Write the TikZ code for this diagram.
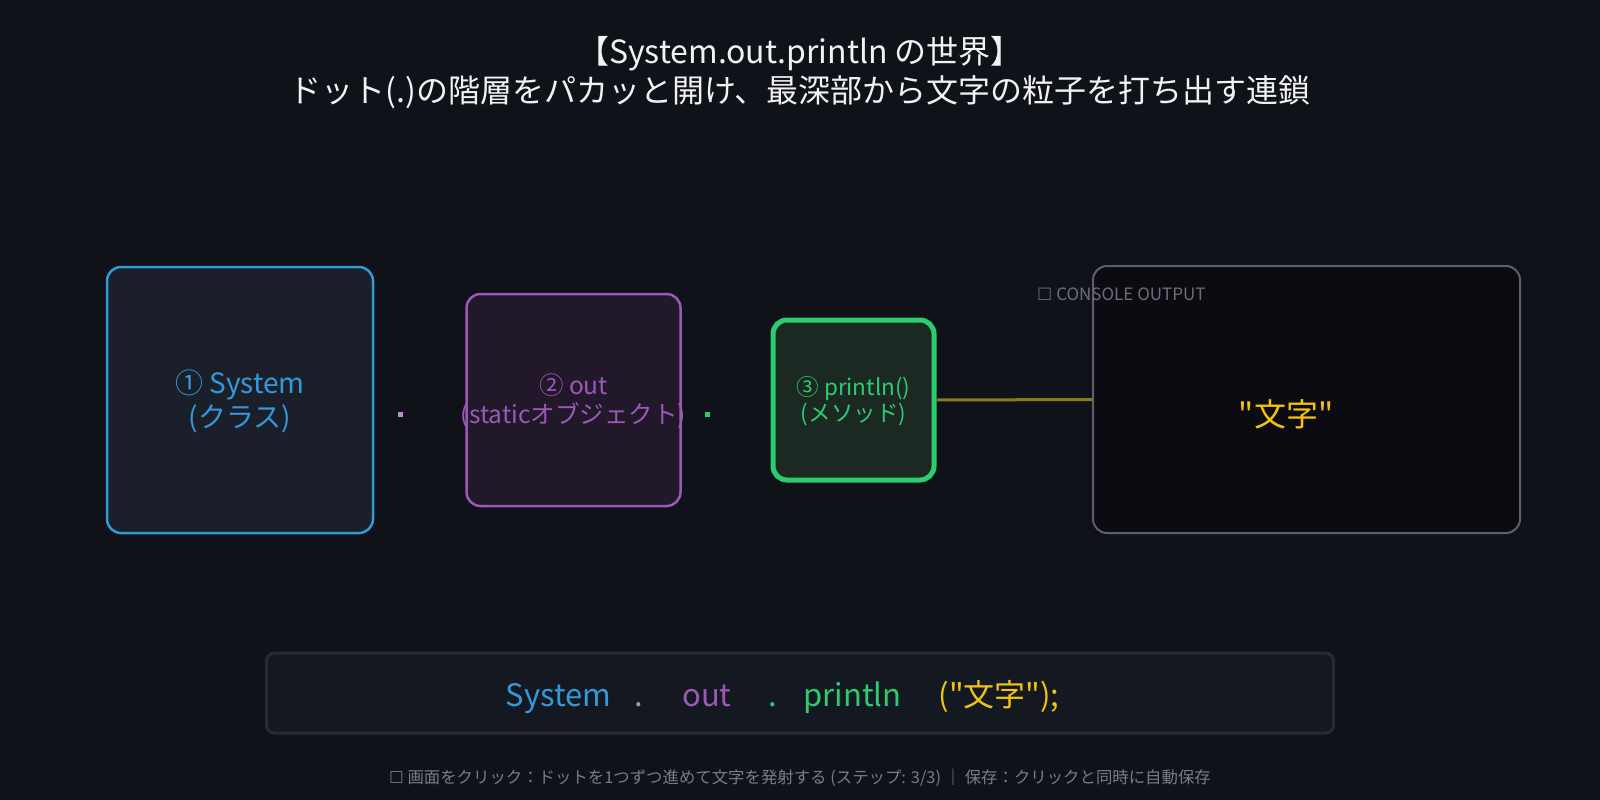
\documentclass[tikz,border=0pt]{standalone}
\usepackage{fontspec}
\setmainfont{Noto Sans CJK JP}[Ligatures=TeXOff]
\newfontfamily\dv{DejaVu Sans}[Ligatures=TeXOff]
\definecolor{bg}{HTML}{0F1218}
\definecolor{cblue}{HTML}{3498DB}
\definecolor{cpurple}{HTML}{9B59B6}
\definecolor{cgreen}{HTML}{2ECC71}
\definecolor{cyellow}{HTML}{F1C40F}
\definecolor{cline}{HTML}{8C7A1A}
\definecolor{cgray}{HTML}{6E6E78}
\definecolor{cfoot}{HTML}{7A7C84}
\definecolor{cwhite}{HTML}{F2F2F2}
\definecolor{fblue}{HTML}{1A1F29}
\definecolor{fpurple}{HTML}{21182A}
\definecolor{fgreen}{HTML}{1B2922}
\definecolor{conedge}{HTML}{5F5F6B}
\definecolor{confill}{HTML}{0B0B11}
\definecolor{codeedge}{HTML}{262B35}
\definecolor{codefill}{HTML}{141821}
\definecolor{cdot}{HTML}{9AA0AA}
\tikzset{
  box/.style={draw, rounded corners=14pt, inner sep=0pt},
  fs/.style 2 args={font=\fontsize{#1}{#2}\selectfont},
  lbl/.style={align=center, inner sep=0pt},
  codetxt/.style={anchor=base, inner sep=0pt, font=\fontsize{31}{34}\selectfont},
  dotsq/.style={fill=#1, draw=none, minimum size=5pt, inner sep=0pt},
}
\begin{document}
\begin{tikzpicture}[x=1pt,y=-1pt]
\fill[bg] (0,0) rectangle (1600,800);
\useasboundingbox (0,0) rectangle (1600,800);
% title
\node[lbl, text=cwhite, fs={32}{39}] (title) at (800,73) {【System.out.println の世界】\\ドット(.)の階層をパカッと開け、最深部から文字の粒子を打ち出す連鎖};
% boxes
\node[box, draw=cblue, fill=fblue, line width=2.5pt, minimum width=266pt, minimum height=266pt] (b1) at (240,400) {};
\node[lbl, text=cblue, fs={28}{34}] (t1) at (240,401) {① System\\(クラス)};
\node[dotsq=cpurple!70!white] (d1) at (400,414) {};
\node[box, draw=cpurple, fill=fpurple, line width=2.5pt, minimum width=214pt, minimum height=212pt] (b2) at (573.5,400) {};
\node[lbl, text=cpurple, fs={24.5}{29}] (t2) at (573.5,401) {② out\\(staticオブジェクト)};
\node[dotsq=cgreen] (d2) at (707,414) {};
\node[box, draw=cgreen, fill=fgreen, line width=5pt, minimum width=161pt, minimum height=160pt] (b3) at (853.5,400) {};
\node[lbl, text=cgreen, fs={22.5}{26}] (t3) at (853.5,401) {③ println()\\(メソッド)};
\node[box, draw=conedge, fill=confill, line width=2pt, minimum width=427pt, minimum height=267pt] (con) at (1306.5,399.5) {};
\draw[cline, line width=3pt] (b3.east) -- (con.west);
\node[anchor=west, inner sep=0pt, text=cgray, fs={17}{20}] (clab) at (1037,294) {{\dv ☐} CONSOLE OUTPUT};
\node[lbl, text=cyellow, fs={32}{34}] (out) at (1286,414) {"文字"};
% code line
\node[box, rounded corners=8pt, draw=codeedge, fill=codefill, line width=3pt, minimum width=1067pt, minimum height=80pt] (code) at (800,693) {};
\node[codetxt, text=cblue] (c1) at (558.5,706) {System};
\node[codetxt, text=cdot] (c2) at (639,706) {.};
\node[codetxt, text=cpurple] (c3) at (707,706) {out};
\node[codetxt, text=cgreen] (c4) at (773,706) {.};
\node[codetxt, text=cgreen] (c5) at (852.5,706) {println};
\node[codetxt, text=cyellow] (c6) at (999,706) {("文字");};
% footer
\node[lbl, text=cfoot, fs={16.4}{18}] (foot) at (800,778) {{\dv ☐} 画面をクリック：ドットを1つずつ進めて文字を発射する (ステップ: 3/3) ｜ 保存：クリックと同時に自動保存};
\end{tikzpicture}
\end{document}
